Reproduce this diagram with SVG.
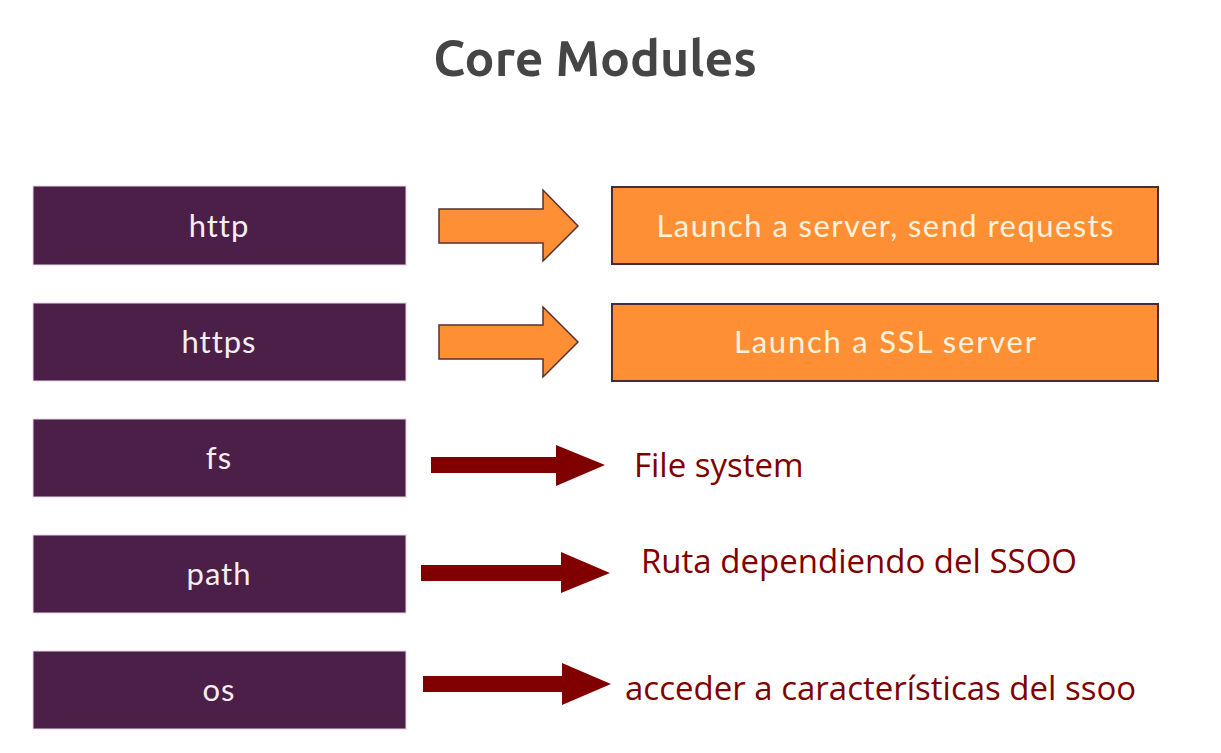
<svg xmlns="http://www.w3.org/2000/svg" width="1221" height="753" viewBox="0 0 1221 753">
<style>
.mod{fill:#4b1f47;stroke:#e8d4e4;stroke-width:1}
.modt{font-family:"Lato","Open Sans",sans-serif;font-size:31px;letter-spacing:1px;fill:#f4eef2;text-anchor:middle}
.ob{fill:#ff8f35;stroke:#4a2a3a;stroke-width:2}
.obt{font-family:"Lato","Open Sans",sans-serif;font-size:31px;fill:#fff2dd;text-anchor:middle}
.oa{fill:#ff8f35;stroke:#5a3030;stroke-width:1.5}
.ra{fill:#800000}
.rt{font-family:"Open Sans","Noto Sans",sans-serif;font-size:33px;fill:#800000}
</style>
<rect width="1221" height="753" fill="#ffffff"/>
<text x="595" y="76" font-family="Ubuntu,'Open Sans',sans-serif" font-weight="bold" font-size="50" fill="#454545" text-anchor="middle">Core Modules</text>
<g id="node-http"><rect class="mod" x="33" y="186" width="373" height="79"/><text class="modt" x="219" y="237">http</text></g>
<g id="node-https"><rect class="mod" x="33" y="303" width="373" height="78"/><text class="modt" x="219" y="353">https</text></g>
<g id="node-fs"><rect class="mod" x="33" y="419" width="373" height="78"/><text class="modt" x="219" y="469">fs</text></g>
<g id="node-path"><rect class="mod" x="33" y="535" width="373" height="78"/><text class="modt" x="219" y="585">path</text></g>
<g id="node-os"><rect class="mod" x="33" y="651" width="373" height="78"/><text class="modt" x="219" y="701">os</text></g>
<g id="node-http-desc"><rect class="ob" x="612" y="187" width="546" height="77"/><text class="obt" x="885" y="237" textLength="457" lengthAdjust="spacing">Launch a server, send requests</text></g>
<g id="node-https-desc"><rect class="ob" x="612" y="304" width="546" height="77"/><text class="obt" x="885" y="353" textLength="302" lengthAdjust="spacing">Launch a SSL server</text></g>
<g id="node-fs-desc"><text class="rt" x="634" y="477">File system</text></g>
<g id="node-path-desc"><text class="rt" x="641" y="573">Ruta dependiendo del SSOO</text></g>
<g id="node-os-desc"><text class="rt" x="625" y="700">acceder a características del ssoo</text></g>
<g id="connectors">
<path class="oa" d="M439 209 H543 V190 L578 226 L543 261 V243 H439 Z"/>
<path class="oa" d="M439 325 H543 V307 L578 342 L543 377 V359 H439 Z"/>
<path class="ra" d="M431 457 H556 V445 L605 465 L556 486 V473 H431 Z"/>
<path class="ra" d="M421 565 H561 V552 L610 573 L561 593 V581 H421 Z"/>
<path class="ra" d="M423 676 H562 V663 L611 684 L562 705 V692 H423 Z"/>
</g>
</svg>
